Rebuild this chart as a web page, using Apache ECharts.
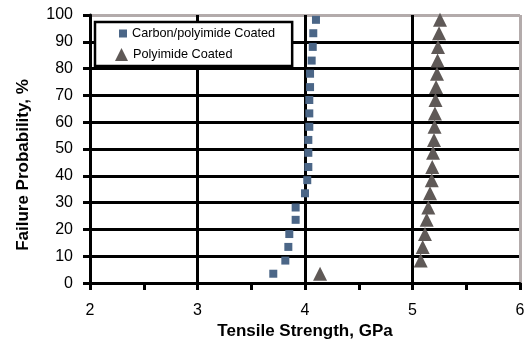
<!DOCTYPE html>
<html>
  <head>
    <meta charset="utf-8" />
    <script src="https://cdn.jsdelivr.net/npm/echarts@6.0.0/dist/echarts.min.js"></script>
  </head>
  <body style="margin:0;background:#fff;">
    <div id="main" style="width: 531px;height:345px;"></div>
    <script type="text/javascript">
      var myChart = echarts.init(document.getElementById('main'));

      // failure probability (%) for each ranked specimen
      const failProb = [3.5, 8.4, 13.5, 18.3, 23.6, 28.2, 33.5, 38.4, 43.3, 48.6,
                        53.4, 58.3, 63.3, 68.3, 73.1, 78.1, 83.0, 88.1, 93.2, 98.2];
      // tensile strength, GPa
      const carbonCoated = [3.705, 3.817, 3.845, 3.854, 3.913, 3.913, 4.000, 4.021, 4.031, 4.031,
                            4.031, 4.040, 4.040, 4.040, 4.047, 4.047, 4.062, 4.072, 4.077, 4.102];
      const polyCoated = [4.14, 5.076, 5.095, 5.116, 5.132, 5.147, 5.163, 5.179, 5.184, 5.191,
                          5.200, 5.205, 5.209, 5.214, 5.219, 5.228, 5.233, 5.237, 5.247, 5.256];

      const fontFam = '"Liberation Sans", Arial, sans-serif';
      const gridGray = '#b3abab';

      const carbonData = carbonCoated.map((v, i) => [v, failProb[i]]);
      const polyData = polyCoated.map((v, i) => [v, failProb[i]]);

      option = {
        animation: false,
        backgroundColor: '#fff',
        textStyle: { fontFamily: fontFam },
        legend: [
          { data: ['Carbon/polyimide Coated'],
            orient: 'vertical',
            left: 95,
            top: 22,
            padding: [5, 17, 26, 24],
            itemWidth: 8,
            itemHeight: 8,
            borderColor: '#000',
            borderWidth: 2.5,
            backgroundColor: '#fff',
            textStyle: { fontSize: 12.7, color: '#000', fontFamily: fontFam }
          },
          { data: ['Polyimide Coated'],
            orient: 'vertical',
            left: 115,
            top: 48,
            padding: 0,
            itemWidth: 13,
            itemHeight: 13,
            textStyle: { fontSize: 12.7, color: '#000', fontFamily: fontFam }
          }
        ],
        grid: {
          left: 90,
          right: 11,
          top: 15,
          bottom: 60
        },
        xAxis: {
          type: 'value',
          min: 2,
          max: 6,
          interval: 1,
          name: 'Tensile Strength, GPa',
          nameLocation: 'middle',
          nameGap: 37,
          nameTextStyle: { fontSize: 17, fontWeight: 'bold', color: '#000', fontFamily: fontFam },
          axisLine: { lineStyle: { color: '#000', width: 3 } },
          axisTick: { length: 7, lineStyle: { color: '#000', width: 3 } },
          minorTick: { show: true, splitNumber: 2, length: 7, lineStyle: { color: '#000', width: 3 } },
          axisLabel: { fontSize: 16, color: '#000', margin: 19, fontFamily: fontFam },
          splitLine: { show: true, lineStyle: { color: ['#000', '#000', '#000', '#000', gridGray], width: 3 } }
        },
        yAxis: {
          type: 'value',
          min: 0,
          max: 100,
          interval: 10,
          name: 'Failure Probability, %',
          nameLocation: 'middle',
          nameGap: 58,
          nameTextStyle: { fontSize: 17, fontWeight: 'bold', color: '#000', fontFamily: fontFam,
                           padding: [0, 32, 0, 0] },
          axisLine: { show: true, lineStyle: { color: '#000', width: 3 } },
          axisTick: { show: true, length: 7, lineStyle: { color: '#000', width: 3 } },
          axisLabel: { fontSize: 16, color: '#000', margin: 17, fontFamily: fontFam },
          splitLine: { show: true, lineStyle: {
            color: ['#000', '#000', '#000', '#000', '#000', '#000', '#000', '#000', '#000', '#000', gridGray],
            width: 3 } }
        },
        series: [
          { name: 'Carbon/polyimide Coated',
            type: 'scatter',
            symbol: 'rect',
            symbolSize: 8,
            itemStyle: { color: '#4b6687', opacity: 1 },
            data: carbonData
          },
          { name: 'Polyimide Coated',
            type: 'scatter',
            symbol: 'triangle',
            symbolSize: 14,
            itemStyle: { color: '#5f5957', opacity: 1 },
            data: polyData
          }
        ]
      };

      myChart.setOption(option);
    </script>
  </body>
</html>
